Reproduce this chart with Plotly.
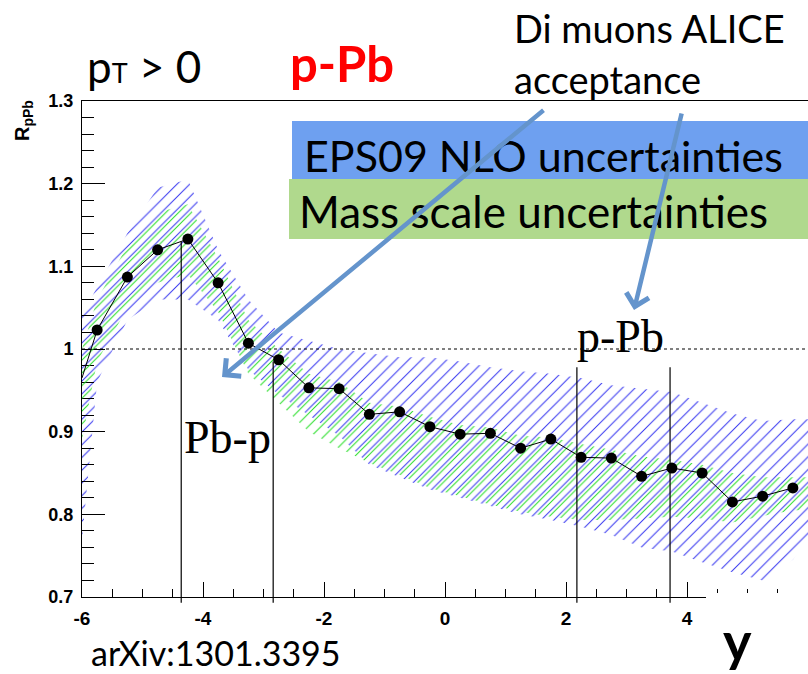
import plotly.graph_objects as go

# ---------------------------------------------------------------- data
# rapidity bin centres and nuclear modification factor R_pPb (J/psi, pT > 0)
y_centers = [-5.75, -5.25, -4.75, -4.25, -3.75, -3.25, -2.75, -2.25, -1.75, -1.25,
             -0.75, -0.25, 0.25, 0.75, 1.25, 1.75, 2.25, 2.75, 3.25, 3.75,
             4.25, 4.75, 5.25, 5.75]
r_ppb = [1.023, 1.087, 1.120, 1.133, 1.080, 1.007, 0.987, 0.953, 0.952, 0.921,
         0.924, 0.906, 0.897, 0.898, 0.880, 0.891, 0.869, 0.868, 0.846, 0.856,
         0.850, 0.815, 0.822, 0.832]
# curve value at the left edge of the frame
edge_y = -6.0
edge_r = 0.965

# uncertainty bands, sampled at the frame edges and bin centres
band_y = [-6.0] + y_centers + [6.0]
eps09_hi = [1.040, 1.075, 1.140, 1.195, 1.205, 1.120, 1.060, 1.020, 1.010, 1.000,
            0.995, 0.990, 0.990, 0.985, 0.978, 0.973, 0.970, 0.965, 0.956, 0.952,
            0.948, 0.935, 0.922, 0.913, 0.915, 0.915]
eps09_lo = [0.770, 0.960, 1.035, 1.060, 1.060, 1.035, 0.975, 0.945, 0.920, 0.895,
            0.860, 0.845, 0.830, 0.820, 0.810, 0.800, 0.793, 0.785, 0.775, 0.760,
            0.755, 0.742, 0.730, 0.720, 0.745, 0.770]
mass_hi = [1.000, 1.060, 1.125, 1.165, 1.175, 1.110, 1.035, 1.000, 0.970, 0.960,
           0.935, 0.930, 0.918, 0.908, 0.905, 0.895, 0.893, 0.885, 0.878, 0.870,
           0.866, 0.860, 0.850, 0.845, 0.845, 0.845]
mass_lo = [0.890, 0.985, 1.050, 1.080, 1.090, 1.045, 0.970, 0.935, 0.900, 0.880,
           0.862, 0.848, 0.832, 0.822, 0.812, 0.803, 0.797, 0.793, 0.793, 0.795,
           0.797, 0.795, 0.790, 0.798, 0.805, 0.805]

# di-muon acceptance limits and the height each marker line reaches
acc_y = [-4.36, -2.84, 2.18, 3.72]
acc_top = [1.130, 0.985, 0.978, 0.978]

x_tick_vals = [-6, -4, -2, 0, 2, 4]
x_tick_labels = ["-6", "-4", "-2", "0", "2", "4"]

# ---------------------------------------------------------------- geometry
W, H = 808, 674
M_L, M_R, M_T, M_B = 82, 0, 101, 77
PW, PH = W - M_L - M_R, H - M_T - M_B
X_RANGE = [-6.0, 6.0]
Y_RANGE = [0.7, 1.3]
HATCH = 9                      # hatch spacing in px
SHIFT = HATCH / 2              # second band offset so the hatchings interleave

BLUE_HATCH = "#3333f0"
GREEN_HATCH = "#22dd22"
ARROW = "#6494cc"
SANS = "Lato"
SERIF = "Liberation Serif"


def paper(px, py):
    """pixel position on the page -> paper coordinates"""
    return (px - M_L) / PW, (H - M_B - py) / PH


def y_paper(v):
    return (v - Y_RANGE[0]) / (Y_RANGE[1] - Y_RANGE[0])


def closed(xs, hi, lo):
    return xs + xs[::-1], hi + lo[::-1]


fig = go.Figure()

bx, by = closed(band_y, eps09_hi, eps09_lo)
fig.add_trace(go.Scatter(
    x=bx, y=by, mode="none", fill="toself", fillcolor=BLUE_HATCH,
    fillpattern=dict(shape="/", size=HATCH, solidity=0.115, fgcolor=BLUE_HATCH,
                     bgcolor="rgba(0,0,0,0)", fillmode="replace"),
    hoverinfo="skip", showlegend=False, xaxis="x", yaxis="y"))

gx, gy = closed(band_y, mass_hi, mass_lo)
fig.add_trace(go.Scatter(
    x=gx, y=gy, mode="none", fill="toself", fillcolor=GREEN_HATCH,
    fillpattern=dict(shape="/", size=HATCH, solidity=0.115, fgcolor=GREEN_HATCH,
                     bgcolor="rgba(0,0,0,0)", fillmode="replace"),
    hoverinfo="skip", showlegend=False, xaxis="x", yaxis="y2"))

fig.add_trace(go.Scatter(
    x=[edge_y] + y_centers, y=[edge_r] + r_ppb, mode="lines",
    line=dict(color="black", width=1), hoverinfo="skip", showlegend=False,
    xaxis="x", yaxis="y2"))
fig.add_trace(go.Scatter(
    x=y_centers, y=r_ppb, mode="markers",
    marker=dict(color="black", size=11, line=dict(width=0)),
    showlegend=False, xaxis="x", yaxis="y2"))

shapes = []
# reference line at R = 1
shapes.append(dict(type="line", xref="x", yref="y", x0=X_RANGE[0], x1=X_RANGE[1],
                   y0=1.0, y1=1.0, line=dict(color="black", width=1, dash="3px,3px")))
# acceptance limits
for xv, top in zip(acc_y, acc_top):
    shapes.append(dict(type="line", xref="x", yref="paper", x0=xv, x1=xv,
                       y0=y_paper(0.693), y1=y_paper(top),
                       line=dict(color="black", width=1.2)))
# white patch where the y label sits
x0, y0 = paper(706, H)
x1, y1 = paper(W + 2, 593)
shapes.append(dict(type="rect", xref="paper", yref="paper", x0=x0, x1=x1, y0=y0, y1=y1,
                   fillcolor="white", line=dict(width=0), layer="above"))
# coloured label boxes
x0, y0 = paper(292, 179)
x1, y1 = paper(W + 2, 121)
shapes.append(dict(type="rect", xref="paper", yref="paper", x0=x0, x1=x1, y0=y0, y1=y1,
                   fillcolor="#6ea0f0", line=dict(width=0), layer="above"))
x0, y0 = paper(289, 239)
x1, y1 = paper(W + 2, 179)
shapes.append(dict(type="rect", xref="paper", yref="paper", x0=x0, x1=x1, y0=y0, y1=y1,
                   fillcolor="#b0d98d", line=dict(width=0), layer="above"))

annotations = []


def text(s, px, py, size, family=SANS, color="black", xanchor="left", weight="normal",
         angle=0):
    x, y = paper(px, py)
    annotations.append(dict(text=s, x=x, y=y, xref="paper", yref="paper",
                            xanchor=xanchor, yanchor="middle", showarrow=False,
                            textangle=angle, borderpad=0, borderwidth=0,
                            font=dict(family=family, size=size, color=color, weight=weight)))


text("p<span style='font-size:27px'>T</span> &gt; 0", 87, 66, 44)
text("p-Pb", 290, 63, 49, color="#ff0000", weight="bold")
text("Di muons ALICE", 514, 28, 38)
text("acceptance", 514, 79, 38)
text("EPS09 NLO uncertainties", 304, 155, 43)
text("Mass scale uncertainties", 299, 211, 44)
text("Pb-p", 184, 437, 46, family=SERIF)
text("p-Pb", 577, 336, 46, family=SERIF)
text("arXiv:1301.3395", 91, 652, 34)
text("y", 737, 640, 54, xanchor="center", weight="bold")
text("<b>R<sub>pPb</sub></b>", 24, 121, 20, family="Liberation Sans", xanchor="center",
     angle=-90)


def arrow(tail, head):
    x, y = paper(*head)
    annotations.append(dict(text="", x=x, y=y, xref="paper", yref="paper",
                            ax=tail[0] - head[0], ay=tail[1] - head[1],
                            showarrow=True, arrowhead=4, arrowsize=1, arrowwidth=4.5,
                            arrowcolor=ARROW, standoff=0, startstandoff=0))


arrow((545, 109), (222, 377))
arrow((682, 112), (634, 310))

tick_font = dict(family="Liberation Sans", size=18, color="black", weight="bold")

fig.update_layout(
    width=W, height=H,
    margin=dict(l=M_L, r=M_R, t=M_T, b=M_B, pad=0),
    paper_bgcolor="white", plot_bgcolor="rgba(0,0,0,0)",
    showlegend=False,
    xaxis=dict(range=X_RANGE, showgrid=False, zeroline=False,
               showline=True, linecolor="black", linewidth=1, mirror=True,
               tickmode="array", tickvals=x_tick_vals, ticktext=x_tick_labels,
               ticks="inside", ticklen=15, tickwidth=1, tickcolor="black",
               minor=dict(dtick=0.5, tick0=0, ticks="inside", ticklen=8,
                          tickwidth=1, tickcolor="black", showgrid=False),
               tickfont=dict(tick_font, size=19), ticklabelstandoff=4),
    yaxis=dict(range=Y_RANGE, showgrid=False, zeroline=False,
               showline=True, linecolor="black", linewidth=1, mirror=False,
               dtick=0.1, tick0=0.7,
               ticks="inside", ticklen=23, tickwidth=1, tickcolor="black",
               minor=dict(dtick=0.02, tick0=0.7, ticks="inside", ticklen=12,
                          tickwidth=1, tickcolor="black", showgrid=False),
               tickfont=tick_font, ticklabelstandoff=4),
    yaxis2=dict(range=[Y_RANGE[0], Y_RANGE[1] - SHIFT * (Y_RANGE[1] - Y_RANGE[0]) / PH],
                domain=[0, 1 - SHIFT / PH], anchor="x", visible=False,
                showgrid=False, zeroline=False),
    shapes=shapes,
    annotations=annotations,
)

fig.write_html("out.html")
